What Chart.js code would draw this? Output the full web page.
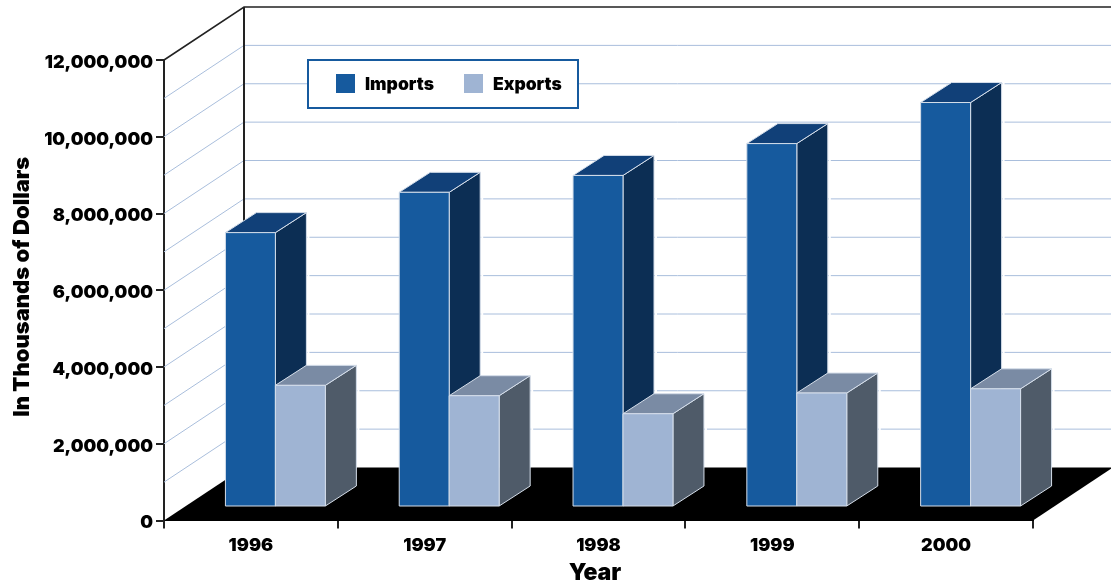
<!DOCTYPE html>
<html>
<head>
<meta charset="utf-8">
<script src="https://cdn.jsdelivr.net/npm/chart.js@4"></script>
<style>
  html, body { margin: 0; padding: 0; background: #fff; }
  canvas { display: block; }
</style>
</head>
<body>
<canvas id="chart" width="1111" height="588"></canvas>
<script>
const years = ['1996', '1997', '1998', '1999', '2000'];
const imports = [7150000, 8200000, 8640000, 9470000, 10540000];
const exports_ = [3170000, 2900000, 2430000, 2970000, 3080000];
const wallLines = [1000000, 2000000, 3000000, 4000000, 5000000, 6000000, 7000000, 8000000, 9000000, 10000000, 11000000];

const fontName = 'Inter, "Noto Sans", sans-serif';

// chart depth: front plane -> back wall
const wallX = 80, wallY = -53;
// bars stand a bit inside the floor and have their own depth
const barShiftX = 24.5, barShiftY = -13.5;
const barDepthX = 31, barDepthY = -20;

const colors = {
    Imports: { front: '#165a9e', side: '#0c2e54', top: '#114078' },
    Exports: { front: '#9fb4d3', side: '#4f5b69', top: '#7a8ba4' }
};

const shape = (ctx, pts, fill, stroke) => {
    ctx.beginPath();
    pts.forEach((p, i) => i ? ctx.lineTo(p[0], p[1]) : ctx.moveTo(p[0], p[1]));
    ctx.closePath();
    ctx.fillStyle = fill;
    ctx.fill();
    if (stroke) {
        ctx.strokeStyle = stroke;
        ctx.lineWidth = 1;
        ctx.stroke();
    }
};

const line = (ctx, pts, color, width) => {
    ctx.beginPath();
    pts.forEach((p, i) => i ? ctx.lineTo(p[0], p[1]) : ctx.moveTo(p[0], p[1]));
    ctx.strokeStyle = color;
    ctx.lineWidth = width;
    ctx.stroke();
};

const drawBars = (chart, index) => {
    const ctx = chart.ctx;
    const c = colors[chart.data.datasets[index].label];
    const edge = '#d5deea';
    const floorBack = chart.scales.y.getPixelForValue(0) + wallY;
    chart.getDatasetMeta(index).data.forEach(bar => {
        const w = bar.width / 2;
        const l = bar.x - w + barShiftX, r = bar.x + w + barShiftX;
        const t = bar.y + barShiftY, b = bar.base + barShiftY;
        // white halo so the wall lines stop just short of the bar, not on the floor
        line(ctx, [[r + barDepthX + 2, t + barDepthY], [r + barDepthX + 2, floorBack - 1]], '#fff', 2);
        shape(ctx, [[r, t], [r + barDepthX, t + barDepthY], [r + barDepthX, b + barDepthY], [r, b]], c.side, edge);
        shape(ctx, [[l, t], [l + barDepthX, t + barDepthY], [r + barDepthX, t + barDepthY], [r, t]], c.top, edge);
        shape(ctx, [[l, t], [r, t], [r, b], [l, b]], c.front, edge);
    });
};

const moveTitle = (scale, dx, dy) => {
    const drawTitle = scale.drawTitle;
    scale.drawTitle = function () {
        this.ctx.save();
        this.ctx.translate(dx, dy);
        drawTitle.call(this);
        this.ctx.restore();
    };
};

const walls = {
    id: 'walls',
    afterLayout(chart) {
        // small label nudges, chart.js only centres them
        chart.scales.y.getLabelItems(chart.chartArea).forEach(item => { item.options.translation[1] += 2.5; });
        moveTitle(chart.scales.y, 0, -3.5);
        moveTitle(chart.scales.x, -3.5, -1);
    },
    beforeDatasetsDraw(chart) {
        const ctx = chart.ctx;
        const yScale = chart.scales.y;
        const xScale = chart.scales.x;
        const left = xScale.left, right = xScale.right;
        const zero = yScale.getPixelForValue(0);
        const topY = yScale.getPixelForValue(yScale.max);
        ctx.save();
        wallLines.forEach(v => {
            const y = yScale.getPixelForValue(v);
            line(ctx, [[left, y], [left + wallX, y + wallY], [chart.width, y + wallY]], '#a9bedc', 1);
        });
        line(ctx, [[left, topY], [left + wallX, topY + wallY], [chart.width, topY + wallY]], '#222', 1.5);
        line(ctx, [[left + wallX, topY + wallY], [left + wallX, zero + wallY]], '#222', 2);
        shape(ctx, [[left, zero], [right, zero], [right + wallX, zero + wallY], [left + wallX, zero + wallY]], '#000');
        // imports first, exports cover their side face
        drawBars(chart, 0);
        drawBars(chart, 1);
        ctx.restore();
    },
    // the boxes are done above, skip the flat ones
    beforeDatasetDraw() {
        return false;
    },
    afterDatasetsDraw(chart) {
        const ctx = chart.ctx;
        ctx.save();
        ctx.fillStyle = '#fff';
        ctx.fillRect(307, 59, 272, 50);
        ctx.strokeStyle = '#165a9e';
        ctx.lineWidth = 2;
        ctx.strokeRect(308, 60, 270, 48);
        ctx.font = '900 17.5px ' + fontName;
        ctx.textBaseline = 'middle';
        const boxX = [336, 464];
        chart.data.datasets.forEach((ds, i) => {
            ctx.fillStyle = colors[ds.label].front;
            ctx.fillRect(boxX[i], 74, 19, 19);
            ctx.fillStyle = '#000';
            ctx.fillText(ds.label, boxX[i] + 29, 84.5);
        });
        ctx.restore();
    }
};

new Chart(document.querySelector('#chart').getContext('2d'), {
    type: 'bar',
    data: {
        labels: years,
        datasets: [
            { label: 'Imports', data: imports, backgroundColor: colors.Imports.front },
            { label: 'Exports', data: exports_, backgroundColor: colors.Exports.front }
        ]
    },
    options: {
        responsive: false,
        animation: false,
        categoryPercentage: 0.575,
        barPercentage: 1,
        layout: { padding: { top: 60, right: 78, left: 0, bottom: 0 } },
        plugins: { legend: { display: false }, tooltip: { enabled: false } },
        scales: {
            x: {
                grid: { drawOnChartArea: false, color: '#222', lineWidth: 2, tickLength: 8 },
                border: { color: '#000', width: 1 },
                ticks: { color: '#000', font: { family: fontName, size: 18, weight: 900 }, padding: 6 },
                title: { display: true, text: 'Year', color: '#000', font: { family: fontName, size: 23, weight: 900 }, padding: { top: 2, bottom: 0 } },
                afterFit: scale => { scale.height = 67.5; }
            },
            y: {
                min: 0,
                max: 12000000,
                grid: { drawOnChartArea: false, color: '#222', lineWidth: 2, tickLength: 8 },
                border: { color: '#222', width: 2 },
                ticks: {
                    stepSize: 2000000,
                    color: '#000',
                    font: { family: fontName, size: 18, weight: 900 },
                    padding: 3,
                    callback: v => v.toLocaleString('en-US')
                },
                title: { display: true, text: 'In Thousands of Dollars', color: '#000', font: { family: fontName, size: 22, weight: 900 }, padding: { top: 9, bottom: 0 } },
                afterFit: scale => { scale.width = 164; }
            }
        }
    },
    plugins: [walls]
});
</script>
</body>
</html>
